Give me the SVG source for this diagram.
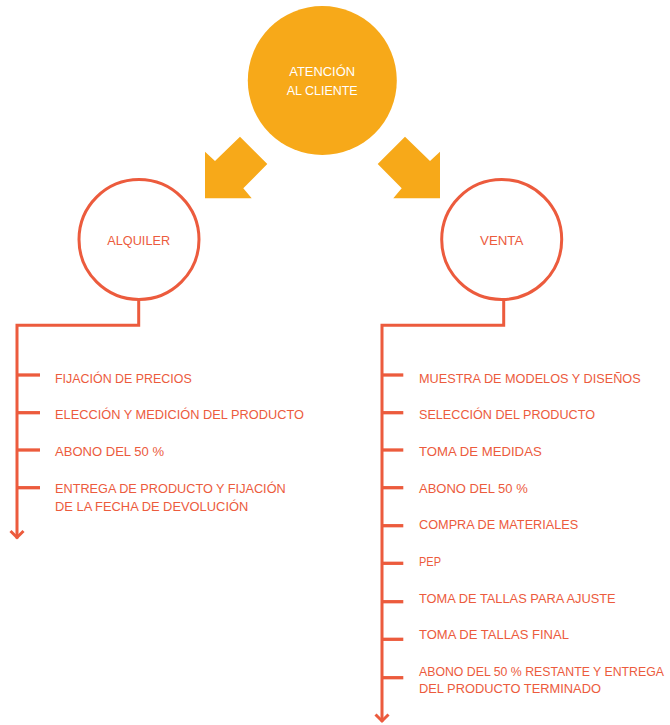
<svg xmlns="http://www.w3.org/2000/svg" width="670" height="725" viewBox="0 0 670 725">
  <defs>
    <style>
      .lbl { font-family: "Liberation Sans", Arial, sans-serif; font-size: 13.2px; fill: #EC5B3D; }
      .ttl { font-family: "Liberation Sans", Arial, sans-serif; font-size: 13.5px; text-anchor: middle; }
      .ring { fill: #FFFFFF; stroke: #EC5B3D; stroke-width: 3; }
      .line { fill: none; stroke: #EC5B3D; stroke-width: 3; }
      .tick { fill: none; stroke: #EC5B3D; stroke-width: 3.3; }
      .bigarrow { fill: #F7A919; }
    </style>
    <polygon id="fat-arrow" points="205,151.7 215,161 240,136.7 267.3,164 243.3,188.3 251.7,198.3 205,198.3"/>
  </defs>
  <rect width="670" height="725" fill="#FFFFFF"/>

  <g id="connectors">
    <use href="#fat-arrow" class="bigarrow"/>
    <use href="#fat-arrow" class="bigarrow" transform="translate(645,0) scale(-1,1)"/>
    <path class="line" d="M138.7,299 V325.3 H17 V538.5"/>
    <polyline class="line" points="10.5,531 17,537.5 23.5,531"/>
    <path class="line" d="M503.7,299 V325.3 H382 V721.5"/>
    <polyline class="line" points="375.5,714.5 382,721 388.5,714.5"/>
    <g class="tick">
      <line x1="17" y1="375" x2="40" y2="375"/>
      <line x1="17" y1="412.7" x2="40" y2="412.7"/>
      <line x1="17" y1="450" x2="40" y2="450"/>
      <line x1="17" y1="487.7" x2="40" y2="487.7"/>
      <line x1="382" y1="375" x2="403.3" y2="375"/>
      <line x1="382" y1="412.7" x2="403.3" y2="412.7"/>
      <line x1="382" y1="450" x2="403.3" y2="450"/>
      <line x1="382" y1="487.7" x2="403.3" y2="487.7"/>
      <line x1="382" y1="525.7" x2="403.3" y2="525.7"/>
      <line x1="382" y1="563.3" x2="403.3" y2="563.3"/>
      <line x1="382" y1="601.7" x2="403.3" y2="601.7"/>
      <line x1="382" y1="639.3" x2="403.3" y2="639.3"/>
      <line x1="382" y1="677.7" x2="403.3" y2="677.7"/>
    </g>
  </g>

  <g id="atencion">
    <circle cx="322.3" cy="80.5" r="74.5" fill="#F7A919"/>
    <text class="ttl" fill="#FFFFFF" x="322.2" y="76" textLength="65.7" lengthAdjust="spacingAndGlyphs">ATENCIÓN</text>
    <text class="ttl" fill="#FFFFFF" x="322.2" y="95" textLength="71" lengthAdjust="spacingAndGlyphs">AL CLIENTE</text>
  </g>

  <g id="alquiler">
    <circle class="ring" cx="139" cy="239.5" r="60"/>
    <text class="ttl" fill="#EC5B3D" x="138.7" y="245" textLength="62.7" lengthAdjust="spacingAndGlyphs">ALQUILER</text>
  </g>

  <g id="venta">
    <circle class="ring" cx="501.7" cy="239.5" r="60"/>
    <text class="ttl" fill="#EC5B3D" x="501.7" y="245" textLength="43.3" lengthAdjust="spacingAndGlyphs">VENTA</text>
  </g>

  <g id="alquiler-pasos">
    <g id="a1"><text class="lbl" x="55" y="383" textLength="136.7" lengthAdjust="spacingAndGlyphs">FIJACIÓN DE PRECIOS</text></g>
    <g id="a2"><text class="lbl" x="55" y="419" textLength="249" lengthAdjust="spacingAndGlyphs">ELECCIÓN Y MEDICIÓN DEL PRODUCTO</text></g>
    <g id="a3"><text class="lbl" x="55" y="456" textLength="109" lengthAdjust="spacingAndGlyphs">ABONO DEL 50 %</text></g>
    <g id="a4">
      <text class="lbl" x="55" y="492.7" textLength="230.7" lengthAdjust="spacingAndGlyphs">ENTREGA DE PRODUCTO Y FIJACIÓN</text>
      <text class="lbl" x="55" y="510.7" textLength="193.3" lengthAdjust="spacingAndGlyphs">DE LA FECHA DE DEVOLUCIÓN</text>
    </g>
  </g>

  <g id="venta-pasos">
    <g id="v1"><text class="lbl" x="419" y="383" textLength="221.7" lengthAdjust="spacingAndGlyphs">MUESTRA DE MODELOS Y DISEÑOS</text></g>
    <g id="v2"><text class="lbl" x="419" y="419" textLength="176" lengthAdjust="spacingAndGlyphs">SELECCIÓN DEL PRODUCTO</text></g>
    <g id="v3"><text class="lbl" x="419" y="456" textLength="122.7" lengthAdjust="spacingAndGlyphs">TOMA DE MEDIDAS</text></g>
    <g id="v4"><text class="lbl" x="419" y="493" textLength="108.7" lengthAdjust="spacingAndGlyphs">ABONO DEL 50 %</text></g>
    <g id="v5"><text class="lbl" x="419" y="529" textLength="159.3" lengthAdjust="spacingAndGlyphs">COMPRA DE MATERIALES</text></g>
    <g id="v6"><text class="lbl" x="419" y="566" textLength="22" lengthAdjust="spacingAndGlyphs">PEP</text></g>
    <g id="v7"><text class="lbl" x="419" y="603" textLength="196.7" lengthAdjust="spacingAndGlyphs">TOMA DE TALLAS PARA AJUSTE</text></g>
    <g id="v8"><text class="lbl" x="419" y="639" textLength="150" lengthAdjust="spacingAndGlyphs">TOMA DE TALLAS FINAL</text></g>
    <g id="v9">
      <text class="lbl" x="419" y="676" style="font-size:12.2px" textLength="245" lengthAdjust="spacingAndGlyphs">ABONO DEL 50 % RESTANTE Y ENTREGA</text>
      <text class="lbl" x="419" y="693.3" textLength="182" lengthAdjust="spacingAndGlyphs">DEL PRODUCTO TERMINADO</text>
    </g>
  </g>
</svg>
